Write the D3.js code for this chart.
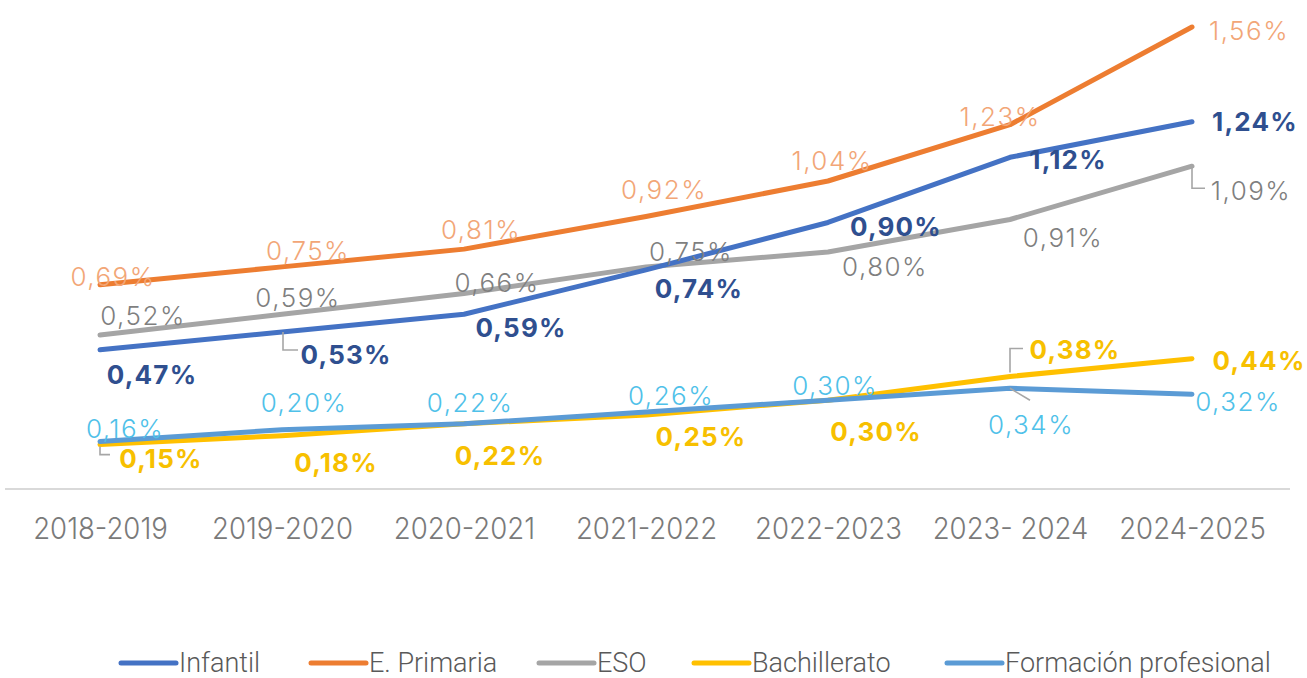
<script src="https://cdn.jsdelivr.net/npm/d3@7"></script>
<style>
  body { margin: 0; background: #fff; }
  text { font-family: Inter, Lato, sans-serif; }
</style>
<div id="container"></div>

<script>
var width = 1307, height = 678;

// data
var years = ["2018-2019", "2019-2020", "2020-2021", "2021-2022", "2022-2023", "2023- 2024", "2024-2025"];
var infantil     = [0.47, 0.53, 0.59, 0.74, 0.90, 1.12, 1.24];
var primaria     = [0.69, 0.75, 0.81, 0.92, 1.04, 1.23, 1.56];
var eso          = [0.52, 0.59, 0.66, 0.75, 0.80, 0.91, 1.09];
var bachillerato = [0.15, 0.18, 0.22, 0.25, 0.30, 0.38, 0.44];
var fp           = [0.16, 0.20, 0.22, 0.26, 0.30, 0.34, 0.32];

// label placement (offset of label centre from the point)
var series = [
  { name: "ESO", values: eso, line: "#a5a5a5", text: "#7f7f7f", weight: 300,
    off: [[43,-20],[16,-17],[33,-11],[45,-15],[57,14],[53,18],[59,24]],
    leaders: { 6: [[0,0],[0,22],[13,22]] } },
  { name: "E. Primaria", values: primaria, line: "#ed7d31", text: "#f2a677", weight: 300,
    off: [[13,-8],[26,-16],[17,-20],[18,-27],[4,-21],[-10,-8],[57,3]], leaders: {} },
  { name: "Infantil", values: infantil, line: "#4472c4", text: "#2f4f8f", weight: 700,
    off: [[52,25],[64,22],[57,13],[53,19],[68,4],[58,2],[63,0]],
    leaders: { 1: [[1,0],[1,18],[16,18]] } },
  { name: "Bachillerato", values: bachillerato, line: "#ffc000", text: "#f7c000", weight: 700,
    off: [[61,14],[54,27],[36,32],[55,22],[48,31],[65,-27],[67,2]],
    leaders: { 0: [[0,2],[0,10],[10,10]], 5: [[0,-4],[0,-28],[13,-28]] } },
  { name: "Formación profesional", values: fp, line: "#5b9bd5", text: "#4fc1e9", weight: 300,
    off: [[25,-13],[22,-27],[6,-21],[25,-17],[7,-15],[21,36],[46,7]],
    leaders: { 5: [[0,0],[20,12]] } }
];
var legendOrder = ["Infantil", "E. Primaria", "ESO", "Bachillerato", "Formación profesional"];

var svg = d3.select('#container')
  .append('svg')
  .attr('width', width)
  .attr('height', height);

var x = d3.scalePoint().domain(years).range([100, 1192]);
var y = d3.scaleLinear().domain([0, 1.56]).range([489, 27]);

// baseline axis
svg.append("line")
  .attr("x1", 5).attr("x2", 1290)
  .attr("y1", y(0)).attr("y2", y(0))
  .attr("stroke", "#d9d9d9").attr("stroke-width", 2);

var xAxis = svg.append("g")
  .attr("transform", "translate(0," + (y(0) + 39) + ")")
  .call(d3.axisBottom(x).tickSize(0).tickPadding(0));
xAxis.select(".domain").remove();
xAxis.selectAll("text")
  .attr("y", 0).attr("dy", null)
  .attr("dominant-baseline", "central")
  .attr("transform", "scale(0.92,1)")
  .attr("font-size", 30)
  .attr("font-weight", 300)
  .attr("fill", "#7a7a7a")
  .style("font-family", "Inter, Lato, sans-serif");

var line = d3.line()
  .x(function(d, i){ return x(years[i]); })
  .y(function(d){ return y(d); });

series.forEach(function(s){
  svg.append("path")
    .attr("d", line(s.values))
    .attr("fill", "none")
    .attr("stroke", s.line)
    .attr("stroke-width", 5)
    .attr("stroke-linejoin", "round")
    .attr("stroke-linecap", "round");
});

// leader lines
series.forEach(function(s){
  Object.keys(s.leaders).forEach(function(k){
    var i = +k, px = x(years[i]), py = y(s.values[i]);
    svg.append("polyline")
      .attr("points", s.leaders[k].map(function(p){ return (px + p[0]) + "," + (py + p[1]); }).join(" "))
      .attr("fill", "none")
      .attr("stroke", "#a6a6a6")
      .attr("stroke-width", 1.6);
  });
});

// labels
series.forEach(function(s){
  svg.append("g").selectAll("text")
    .data(s.values)
    .enter()
    .append("text")
    .attr("x", function(d, i){ return x(years[i]) + s.off[i][0]; })
    .attr("y", function(d, i){ return y(d) + s.off[i][1]; })
    .attr("text-anchor", "middle")
    .attr("dominant-baseline", "central")
    .attr("font-size", 26)
    .attr("letter-spacing", s.weight === 700 ? 1.2 : 1.5)
    .attr("font-weight", s.weight)
    .attr("fill", s.text)
    .text(function(d){ return d.toFixed(2).replace(".", ",") + "%"; });
});

// legend
var legendX = [121, 311, 539, 694, 947];
var legend = svg.append("g");
legendOrder.forEach(function(name, i){
  var s = series.find(function(d){ return d.name === name; });
  var g = legend.append("g").attr("transform", "translate(" + legendX[i] + ",663)");
  g.append("line")
    .attr("x1", 0).attr("x2", 55)
    .attr("stroke", s.line).attr("stroke-width", 5)
    .attr("stroke-linecap", "round");
  g.append("text")
    .attr("x", 58)
    .attr("dominant-baseline", "central")
    .attr("font-size", 27)
    .attr("font-weight", 300)
    .attr("fill", "#595959")
    .style("font-family", "'Roboto', sans-serif")
    .text(name);
});
</script>
